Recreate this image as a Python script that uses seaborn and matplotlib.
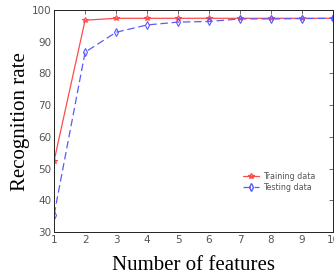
import matplotlib
matplotlib.use("Agg")
import matplotlib.pyplot as plt
import seaborn as sns
import pandas as pd
from matplotlib.lines import Line2D

features = [1, 2, 3, 4, 5, 6, 7, 8, 9, 10]
training = [52.5, 96.8, 97.4, 97.4, 97.4, 97.4, 97.4, 97.4, 97.4, 97.4]
testing = [35.5, 86.7, 93.0, 95.3, 96.2, 96.4, 97.2, 97.2, 97.3, 97.4]
series_names = ["Training data", "Testing data"]

sns.set_style("white")
plt.rcParams["font.family"] = ["DejaVu Sans"]

df = pd.DataFrame({
    "features": features * 2,
    "rate": training + testing,
    "series": [series_names[0]] * len(features) + [series_names[1]] * len(features),
})

fig = plt.figure(figsize=(3.34, 2.79), dpi=100)
ax = fig.add_axes([0.162, 0.168, 0.835, 0.796])

red = "#ff4a4a"
blue = "#5a5aff"
palette = {series_names[0]: red, series_names[1]: blue}
sns.lineplot(data=df, x="features", y="rate", hue="series", style="series",
             palette=palette, dashes={series_names[0]: "", series_names[1]: (6, 3)},
             markers={series_names[0]: "*", series_names[1]: "d"},
             markersize=4, linewidth=0.9, markerfacecolor="none",
             ax=ax, legend=False)
for line in ax.get_lines():
    line.set_markeredgewidth(0.8)
    line.set_markeredgecolor(line.get_color())

ax.set_xlim(1, 10)
ax.set_ylim(30, 100)
ax.set_xticks(features)
ax.set_yticks(range(30, 101, 10))
ax.tick_params(direction="in", length=3, width=0.6, labelsize=7.5, colors="#555555",
               top=True, right=True, pad=2)
for s in ax.spines.values():
    s.set_linewidth(0.7)
    s.set_color("#222222")

ax.set_xlabel("Number of features", family="Liberation Serif", fontsize=15, color="black", labelpad=8)
ax.set_ylabel("Recognition rate", family="Liberation Serif", fontsize=15, color="black", labelpad=1.5)

handles = [
    Line2D([], [], color=red, marker="*", markersize=4, linewidth=0.9, markerfacecolor="none"),
    Line2D([], [], color=blue, marker="d", markersize=4, linewidth=0.9, linestyle=(0, (6, 3)), markerfacecolor="none"),
]
ax.legend(handles, series_names, loc="upper left", bbox_to_anchor=(0.665, 0.285), frameon=False,
          fontsize=5.8, handlelength=2.0, handletextpad=0.5, labelspacing=0.2, borderaxespad=0,
          labelcolor="#555555")

fig.savefig("out.png", dpi=100)
